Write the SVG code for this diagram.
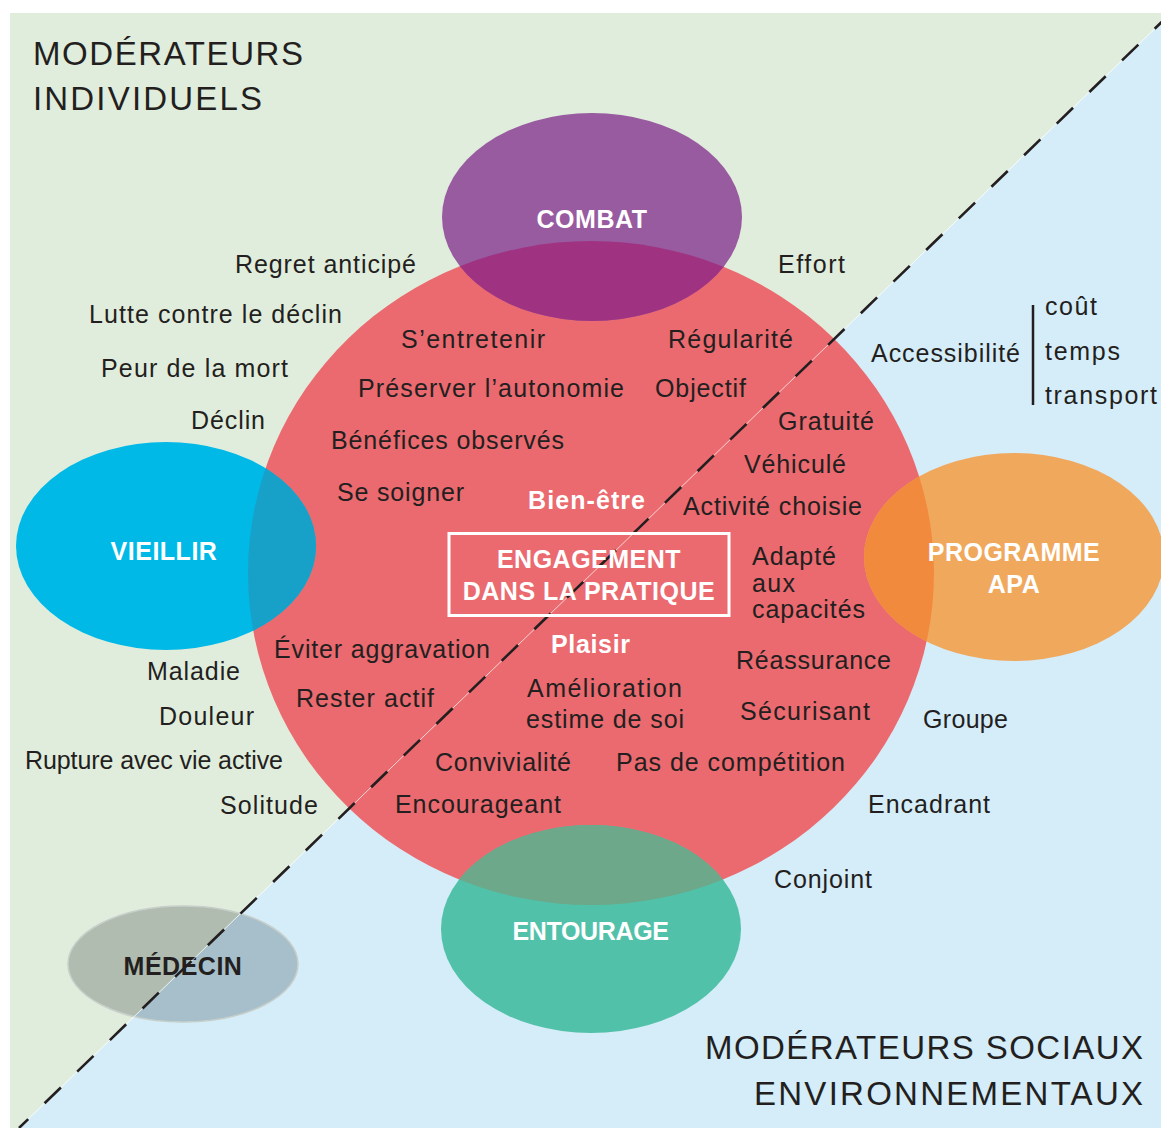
<svg xmlns="http://www.w3.org/2000/svg" width="1161" height="1128" viewBox="0 0 1161 1128">
<style>
.lbl{font-family:"Liberation Sans",Arial,sans-serif;font-size:25px;fill:#231f20}
.wb{font-weight:bold;fill:#ffffff}
.nl{font-family:"Liberation Sans",Arial,sans-serif;font-size:25px;font-weight:bold;fill:#ffffff;text-anchor:middle;letter-spacing:0.5px}
.title{font-family:"Liberation Sans",Arial,sans-serif;font-size:33px;fill:#231f20}
</style>
<defs>
<clipPath id="clipRed"><ellipse cx="591" cy="573" rx="343" ry="332"/></clipPath>
<clipPath id="clipGreen"><polygon points="10,13 1171,13 19,1128 10,1128"/></clipPath>
<clipPath id="clipBlue"><polygon points="1171,13 1171,1128 19,1128"/></clipPath>
</defs>
<rect x="0" y="0" width="1161" height="1128" fill="#ffffff"/>
<g id="background">
<polygon points="10,13 1171,13 19,1128 10,1128" fill="#e1eddc"/>
<polygon points="1171,13 1171,1128 19,1128" fill="#d5ecf9"/>
</g>
<g id="node-engagement-zone">
<ellipse cx="591" cy="573" rx="343" ry="332" fill="#ea6a6f"/>
</g>
<g id="node-combat">
<ellipse cx="592" cy="217" rx="150" ry="104" fill="#985ba0"/>
<ellipse cx="592" cy="217" rx="150" ry="104" fill="#a03381" clip-path="url(#clipRed)"/>
<text class="nl" x="592" y="228">COMBAT</text>
</g>
<g id="node-vieillir">
<ellipse cx="166" cy="546" rx="150" ry="104" fill="#00b9e7"/>
<ellipse cx="166" cy="546" rx="150" ry="104" fill="#17a1c9" clip-path="url(#clipRed)"/>
<text class="nl" x="164" y="560">VIEILLIR</text>
</g>
<g id="node-programme">
<ellipse cx="1014" cy="557" rx="150" ry="104" fill="#f0a85d"/>
<ellipse cx="1014" cy="557" rx="150" ry="104" fill="#f28a3e" clip-path="url(#clipRed)"/>
<text class="nl" x="1014" y="561">PROGRAMME</text>
<text class="nl" x="1014" y="593">APA</text>
</g>
<g id="node-entourage">
<ellipse cx="591" cy="929" rx="150" ry="104" fill="#52c1a9"/>
<ellipse cx="591" cy="929" rx="150" ry="104" fill="#6ca889" clip-path="url(#clipRed)"/>
<text class="nl" x="591" y="940" textLength="157" lengthAdjust="spacing">ENTOURAGE</text>
</g>
<g id="node-medecin">
<ellipse cx="183" cy="964" rx="115" ry="58" fill="#b1bcb0" clip-path="url(#clipGreen)"/>
<ellipse cx="183" cy="964" rx="115" ry="58" fill="#a7bfcb" clip-path="url(#clipBlue)"/>
<ellipse cx="183" cy="964" rx="115" ry="58" fill="none" stroke="#c7cfca" stroke-width="1.5"/>
<text class="nl" x="183" y="975" style="fill:#231f20">MÉDECIN</text>
</g>
<g id="connectors">
<line x1="1171" y1="13" x2="19" y2="1128" stroke="#ffffff" stroke-width="1" stroke-opacity="0.7"/>
<line x1="1171" y1="13" x2="19" y2="1128" stroke="#231f20" stroke-width="2.6" stroke-dasharray="22.7 22.74"/>
</g>
<g id="node-engagement">
<rect x="449" y="533.5" width="280" height="82" fill="none" stroke="#ffffff" stroke-width="3"/>
<text class="nl" x="589" y="568">ENGAGEMENT</text>
<text class="nl" x="589" y="600">DANS LA PRATIQUE</text>
</g>
<g id="titles">
<text class="title" x="33" y="65" textLength="270" lengthAdjust="spacing">MODÉRATEURS</text>
<text class="title" x="33" y="110" textLength="229" lengthAdjust="spacing">INDIVIDUELS</text>
<text class="title" x="705" y="1059" textLength="438" lengthAdjust="spacing">MODÉRATEURS SOCIAUX</text>
<text class="title" x="754" y="1105" textLength="389" lengthAdjust="spacing">ENVIRONNEMENTAUX</text>
</g>
<g id="labels">
<text class="lbl" x="235" y="273" textLength="181" lengthAdjust="spacing">Regret anticipé</text>
<text class="lbl" x="89" y="323" textLength="253" lengthAdjust="spacing">Lutte contre le déclin</text>
<text class="lbl" x="101" y="377" textLength="187" lengthAdjust="spacing">Peur de la mort</text>
<text class="lbl" x="191" y="429" textLength="74" lengthAdjust="spacing">Déclin</text>
<text class="lbl" x="401" y="348" textLength="144" lengthAdjust="spacing">S’entretenir</text>
<text class="lbl" x="358" y="397" textLength="266" lengthAdjust="spacing">Préserver l’autonomie</text>
<text class="lbl" x="331" y="449" textLength="233" lengthAdjust="spacing">Bénéfices observés</text>
<text class="lbl" x="337" y="501" textLength="127" lengthAdjust="spacing">Se soigner</text>
<text class="lbl wb" x="528" y="509" textLength="117" lengthAdjust="spacing">Bien-être</text>
<text class="lbl" x="274" y="658" textLength="216" lengthAdjust="spacing">Éviter aggravation</text>
<text class="lbl" x="296" y="707" textLength="138" lengthAdjust="spacing">Rester actif</text>
<text class="lbl wb" x="551" y="653" textLength="79" lengthAdjust="spacing">Plaisir</text>
<text class="lbl" x="527" y="697" textLength="155" lengthAdjust="spacing">Amélioration</text>
<text class="lbl" x="526" y="728" textLength="158" lengthAdjust="spacing">estime de soi</text>
<text class="lbl" x="435" y="771" textLength="136" lengthAdjust="spacing">Convivialité</text>
<text class="lbl" x="395" y="813" textLength="166" lengthAdjust="spacing">Encourageant</text>
<text class="lbl" x="668" y="348" textLength="125" lengthAdjust="spacing">Régularité</text>
<text class="lbl" x="655" y="397" textLength="91" lengthAdjust="spacing">Objectif</text>
<text class="lbl" x="778" y="430" textLength="96" lengthAdjust="spacing">Gratuité</text>
<text class="lbl" x="744" y="473" textLength="102" lengthAdjust="spacing">Véhiculé</text>
<text class="lbl" x="683" y="515" textLength="179" lengthAdjust="spacing">Activité choisie</text>
<text class="lbl" x="752" y="565" textLength="84" lengthAdjust="spacing">Adapté</text>
<text class="lbl" x="752" y="592" textLength="43" lengthAdjust="spacing">aux</text>
<text class="lbl" x="752" y="618" textLength="113" lengthAdjust="spacing">capacités</text>
<text class="lbl" x="736" y="669" textLength="155" lengthAdjust="spacing">Réassurance</text>
<text class="lbl" x="740" y="720" textLength="130" lengthAdjust="spacing">Sécurisant</text>
<text class="lbl" x="616" y="771" textLength="229" lengthAdjust="spacing">Pas de compétition</text>
<text class="lbl" x="778" y="273" textLength="67" lengthAdjust="spacing">Effort</text>
<text class="lbl" x="871" y="362" textLength="149" lengthAdjust="spacing">Accessibilité</text>
<line x1="1033" y1="305" x2="1033" y2="405" stroke="#231f20" stroke-width="2.5"/>
<text class="lbl" x="1045" y="315" textLength="52" lengthAdjust="spacing">coût</text>
<text class="lbl" x="1045" y="360" textLength="75" lengthAdjust="spacing">temps</text>
<text class="lbl" x="1045" y="404" textLength="112" lengthAdjust="spacing">transport</text>
<text class="lbl" x="923" y="728" textLength="85" lengthAdjust="spacing">Groupe</text>
<text class="lbl" x="868" y="813" textLength="122" lengthAdjust="spacing">Encadrant</text>
<text class="lbl" x="774" y="888" textLength="98" lengthAdjust="spacing">Conjoint</text>
<text class="lbl" x="147" y="680" textLength="93" lengthAdjust="spacing">Maladie</text>
<text class="lbl" x="159" y="725" textLength="95" lengthAdjust="spacing">Douleur</text>
<text class="lbl" x="25" y="769" textLength="258" lengthAdjust="spacing">Rupture avec vie active</text>
<text class="lbl" x="220" y="814" textLength="98" lengthAdjust="spacing">Solitude</text>
</g>
</svg>
